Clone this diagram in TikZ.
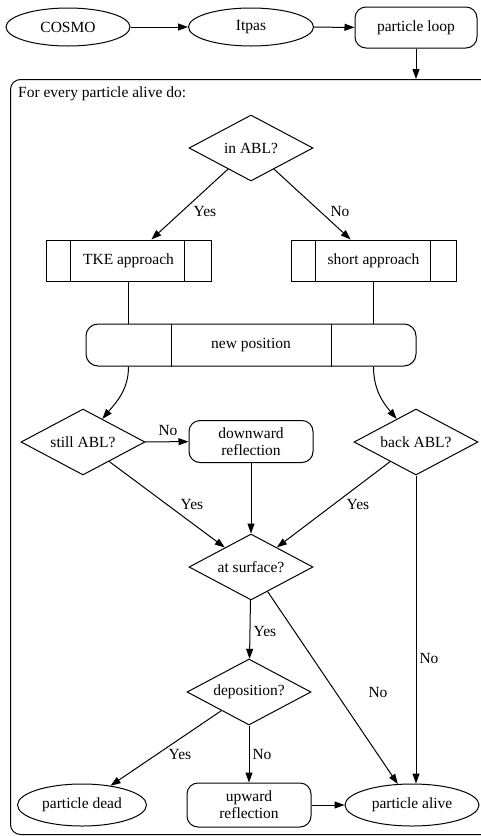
\documentclass[tikz,border=0pt]{standalone}
\usepackage{fontspec}
\setmainfont{LiberationSerif-Regular.ttf}
\usetikzlibrary{arrows.meta,shapes.geometric}
\begin{document}
\begin{tikzpicture}[x=1pt,y=-1pt,
  every node/.style={font=\fontsize{15.5}{17}\selectfont},
  base/.style={draw, line width=1pt, inner sep=0pt},
  ell/.style={base, ellipse, minimum width=#1, minimum height=38pt},
  rbox/.style={base, rectangle, rounded corners=11pt, align=center},
  dia/.style={base, diamond, aspect=1.88, minimum width=124pt, minimum height=66pt},
  rec/.style={base, rectangle, minimum width=165pt, minimum height=41pt},
  arr/.style={line width=1pt, -{Triangle[length=10pt,width=7pt]}},
  ln/.style={line width=1pt},
  lbl/.style={inner sep=0pt}
]
\useasboundingbox (0,0) rectangle (480,836);

% top row
\node[ell=124pt] (cosmo) at (68,27) {COSMO};
\node[ell=125pt] (itpas) at (251,27) {Itpas};
\node[rbox, minimum width=122pt, minimum height=41pt] (loop) at (416,27.5) {particle loop};

% cluster
\node[base, rounded corners=10pt, anchor=north west, minimum width=490pt, minimum height=755pt] (cluster) at (10,79) {};
\node[anchor=base west, inner sep=0pt] (title) at (18,97) {For every particle alive do:};

% nodes
\node[dia] (inabl) at (251,148) {in ABL?};
\node[rec] (tke) at (128.5,260.5) {TKE approach};
\node[rec] (short) at (373.5,260.5) {short approach};
\draw[ln] ([xshift=25pt]tke.north west) -- ([xshift=25pt]tke.south west);
\draw[ln] ([xshift=-27pt]tke.north east) -- ([xshift=-27pt]tke.south east);
\draw[ln] ([xshift=25pt]short.north west) -- ([xshift=25pt]short.south west);
\draw[ln] ([xshift=-26pt]short.north east) -- ([xshift=-26pt]short.south east);

\node[base, rounded corners=12pt, minimum width=330pt, minimum height=42pt] (newpos) at (251,345) {new position};
\draw[ln] ([xshift=-80pt]newpos.north) -- ([xshift=-80pt]newpos.south);
\draw[ln] ([xshift=80pt]newpos.north) -- ([xshift=80pt]newpos.south);

\node[dia] (still) at (83,442) {still ABL?};
\node[rbox, minimum width=124pt, minimum height=42pt] (down) at (251,441.5) {downward\\reflection};
\node[dia] (back) at (416,442) {back ABL?};
\node[dia] (surf) at (251,567) {at surface?};
\node[dia] (depo) at (249,692) {deposition?};
\node[ell=129pt, minimum height=42pt] (dead) at (82,805) {particle dead};
\node[rbox, minimum width=124pt, minimum height=44pt] (up) at (249,805) {upward\\reflection};
\node[ell=134pt, minimum height=42pt] (alive) at (412,805) {particle alive};

% edges
\draw[arr] (cosmo) -- (itpas);
\draw[arr] (itpas) -- (loop);
\draw[arr] (loop) -- (loop |- cluster.north);
\draw[arr] (inabl) -- (tke);
\node[lbl] (l1) at (205,211) {Yes};
\draw[arr] (inabl) -- (short);
\node[lbl] (l2) at (340,211) {No};
\draw[ln] (tke) -- (tke |- newpos.north);
\draw[ln] (short) -- (short |- newpos.north);
\draw[arr] (newpos.south -| tke) to[out=-90,in=50] (still);
\draw[arr] (newpos.south -| short) to[out=-90,in=130] (back);
\draw[arr] (still) -- (down);
\node[lbl] (l3) at (168,430) {No};
\draw[arr] (still) -- (surf);
\node[lbl] (l4) at (192,504) {Yes};
\draw[arr] (down) -- (surf);
\draw[arr] (back) -- (surf);
\node[lbl] (l5) at (358,504) {Yes};
\draw[arr] (back.south) -- (back.south |- alive.north);
\node[lbl] (l6) at (429,658) {No};
\draw[arr] (surf) -- (depo);
\node[lbl] (l7) at (265,631) {Yes};
\draw[arr] (surf) -- (alive);
\node[lbl] (l8) at (378,692) {No};
\draw[arr] (depo) -- (dead);
\node[lbl] (l9) at (180,754) {Yes};
\draw[arr] (depo) -- (up);
\node[lbl] (l10) at (262,754) {No};
\draw[arr] (up) -- (alive);
\end{tikzpicture}
\end{document}
